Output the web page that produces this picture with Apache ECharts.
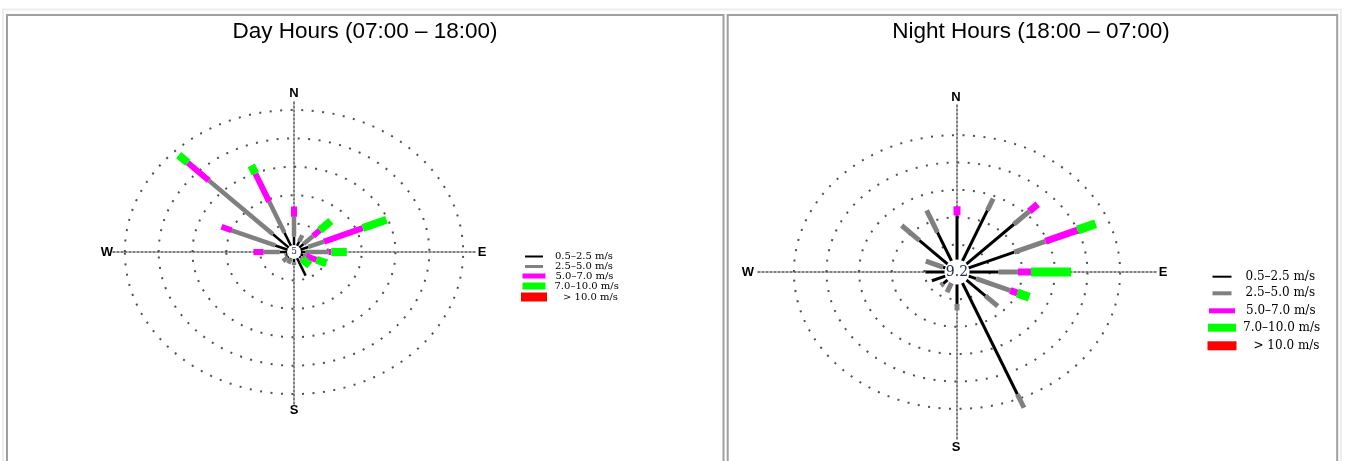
<!DOCTYPE html>
<html><head><meta charset="utf-8">
<script src="https://cdn.jsdelivr.net/npm/echarts@6/dist/echarts.min.js"></script>
<style>html,body{margin:0;padding:0;background:#fff}#c{width:1345px;height:461px}</style>
</head><body><div id="c"></div>
<script>
// ---------- data ----------
const directions = ['N','NNE','NE','ENE','E','ESE','SE','SSE','S','SSW','SW','WSW','W','WNW','NW','NNW'];
const speedBins = ['0.5\u20132.5 m/s','2.5\u20135.0 m/s','5.0\u20137.0 m/s','7.0\u201310.0 m/s','> 10.0 m/s'];
const panelTitles = ['Day Hours (07:00 \u2013 18:00)', 'Night Hours (18:00 \u2013 07:00)'];
const compass = ['N','E','S','W'];

// frequency (%) per direction, per wind-speed class
const day_0_5_2_5  = [1.8,1.1,1.1,1.4,0.8,0.6,0.5,3.6,0.9,0.4,0.4,0.4,1.2,2.1,3.5,2.8];
const day_2_5_5_0  = [3.5,1.2,2.0,2.5,3.4,0.4,0.2,0.0,0.5,0.9,1.0,0.2,2.4,7.0,13.4,5.9];
const day_5_0_7_0  = [1.8,0.0,1.4,6.2,0.4,1.7,0.1,0.0,0.0,0.0,0.0,0.0,1.5,1.6,4.4,5.3];
const day_7_0_10_0 = [0.0,0.0,2.3,3.8,2.3,1.6,1.6,0.0,0.0,0.0,0.0,0.0,0.0,0.0,1.9,1.6];
const day_gt_10    = [0,0,0,0,0,0,0,0,0,0,0,0,0,0,0,0];
const dayCalm = 5;
const dayRings = [5,10,15,20,25];

const night_0_5_2_5  = [5.1,6.2,6.3,4.6,2.7,0.8,2.6,13.4,2.4,0.2,0.7,1.4,1.8,0.3,3.8,3.6];
const night_2_5_5_0  = [0.0,1.4,2.0,3.1,1.8,3.4,1.6,1.6,0.7,1.1,0.3,0.0,0.0,1.7,2.3,2.6];
const night_5_0_7_0  = [1.0,0.0,1.1,3.2,1.2,0.7,0.0,0.0,0.0,0.0,0.0,0.0,0.0,0.0,0.0,0.0];
const night_7_0_10_0 = [0.0,0.0,0.0,1.8,3.7,1.2,0.0,0.0,0.0,0.0,0.0,0.0,0.0,0.0,0.0,0.0];
const night_gt_10    = [0,0,0,0,0,0,0,0,0,0,0,0,0,0,0,0];
const nightCalm = 9.2;
const nightRings = [3,6,9,12,15];

// ---------- styling / layout ----------
const binColors = ['#000000','#808080','#ff00ff','#00ff00','#ff0000'];
const panels = [
  { bins:[day_0_5_2_5,day_2_5_5_0,day_5_0_7_0,day_7_0_10_0,day_gt_10], calm:dayCalm, rings:dayRings,
    extent:26.75, hole:0.9, grid:{left:113,top:100,width:362,height:304},
    widths:[2.5,4.5,6,8,10], circle:14, calmFont:9,
    titleX:365, titleY:20,
    compassPos:{N:[294,93.5],E:[482,252],S:[294,410],W:[107,252]},
    legend:{cx:534, textX:555, ys:[252.5,263,273.5,284.5,296.5], w:[18,18,23,23,26], h:[2,3,5,7,9], pad:[7,7,5,4,11], font:10} },
  { bins:[night_0_5_2_5,night_2_5_5_0,night_5_0_7_0,night_7_0_10_0,night_gt_10], calm:nightCalm, rings:nightRings,
    extent:18.3, hole:1.1, grid:{left:758,top:105,width:398,height:334},
    widths:[3,5,7,9,11], circle:25, calmFont:14,
    titleX:1031, titleY:20,
    compassPos:{N:[956,97],E:[1163,272],S:[956,447],W:[748,272]},
    legend:{cx:1222, textX:1246, ys:[271.7,289.3,307.3,325.7,344.3], w:[19,19,26,28,29], h:[2,4,5,8,9], pad:[9,9,6,2,12], font:12} }
];

const option = {
  animation:false,
  backgroundColor:'#ffffff',
  title:[], legend:[], grid:[], xAxis:[], yAxis:[], series:[],
  graphic:[
    {type:'rect', shape:{x:3,y:9.5,width:1338,height:470}, style:{fill:'none',stroke:'#eeeeee',lineWidth:2}, silent:true},
    {type:'rect', shape:{x:7,y:15,width:716.5,height:470}, style:{fill:'none',stroke:'#a0a0a0',lineWidth:2}, silent:true},
    {type:'rect', shape:{x:727.7,y:15,width:609.5,height:470}, style:{fill:'none',stroke:'#a0a0a0',lineWidth:2}, silent:true}
  ]
};

panels.forEach((p, pi) => {
  option.title.push({text:panelTitles[pi], left:p.titleX, top:p.titleY, textAlign:'center', padding:0,
    textStyle:{fontFamily:'Liberation Sans, Arial, sans-serif', fontSize:22.5, fontWeight:'normal', color:'#000'}});
  option.grid.push(Object.assign({containLabel:false}, p.grid));
  const axisCommon = {type:'value', min:-p.extent, max:p.extent, gridIndex:pi,
    axisLine:{show:true, onZero:true, lineStyle:{color:'#555', width:1.5, type:[2,2]}},
    axisTick:{show:false}, axisLabel:{show:false}, splitLine:{show:false}};
  option.xAxis.push(Object.assign({}, axisCommon));
  option.yAxis.push(Object.assign({}, axisCommon));

  // rings
  option.series.push({
    type:'custom', xAxisIndex:pi, yAxisIndex:pi, clip:false, silent:true, z:2,
    data:p.rings.map(r => [r, 0]), encode:{x:0, y:1},
    renderItem:(params, api) => {
      const r = api.value(0);
      const c = api.coord([0,0]);
      const s = api.size([r, r]);
      return {type:'ellipse', shape:{cx:c[0], cy:c[1], rx:s[0], ry:s[1]},
        style:{fill:null, stroke:'#505050', lineWidth:2, lineDash:[2,8.5]}};
    }
  });

  // bars for each speed class
  p.bins.forEach((vals, b) => {
    const data = directions.map((d, i) => {
      let start = p.hole;
      for (let k = 0; k < b; k++) start += p.bins[k][i];
      return [i, start, start + vals[i]];
    });
    const color = binColors[b], lw = p.widths[b];
    option.series.push({
      type:'custom', name:speedBins[b], xAxisIndex:pi, yAxisIndex:pi, clip:false, silent:true, z:3,
      itemStyle:{color:color},
      dimensions:['dir','start','end'], encode:{x:1, y:2},
      data:data,
      renderItem:(params, api) => {
        const a = api.value(0) * 22.5 * Math.PI / 180;
        const r0 = api.value(1), r1 = api.value(2);
        if (!(r1 > r0)) return null;
        const p0 = api.coord([r0*Math.sin(a), r0*Math.cos(a)]);
        const p1 = api.coord([r1*Math.sin(a), r1*Math.cos(a)]);
        return {type:'line', shape:{x1:p0[0], y1:p0[1], x2:p1[0], y2:p1[1]},
          style:{stroke:color, lineWidth:lw, lineCap:'butt'}};
      }
    });
  });

  // calm circle in the center
  option.series.push({
    type:'scatter', xAxisIndex:pi, yAxisIndex:pi, silent:true, z:4,
    symbol:'circle', symbolSize:p.circle,
    itemStyle:{color:'#ffffff', opacity:1},
    data:[[0,0,p.calm]],
    label:{show:true, position:'inside', formatter:(d) => String(d.value[2]),
      fontFamily:'DejaVu Serif, serif', fontSize:p.calmFont, color:'#1b2b48'}
  });

  // compass letters
  compass.forEach(k => {
    const pos = p.compassPos[k];
    option.graphic.push({type:'text', x:pos[0], y:pos[1], silent:true,
      style:{text:k, fill:'#000', font:'bold 13px "Liberation Sans", Arial, sans-serif', align:'center', verticalAlign:'middle'}});
  });

  // legend: one component per speed class
  speedBins.forEach((name, b) => {
    const L = p.legend;
    option.legend.push({
      selectedMode:false, orient:'vertical', padding:0,
      left:L.cx - L.w[b]/2, top:L.ys[b] - L.h[b]/2,
      itemWidth:L.w[b], itemHeight:L.h[b],
      data:[{name:name, icon:'rect', itemStyle:{color:binColors[b], borderWidth:0}}],
      textStyle:{fontFamily:'DejaVu Serif, serif', fontSize:L.font, color:'#000', padding:[0,0,0,L.pad[b]]}
    });
  });
});

const chart = echarts.init(document.getElementById('c'), null, {renderer:'canvas'});
chart.setOption(option);
</script>
</body></html>
